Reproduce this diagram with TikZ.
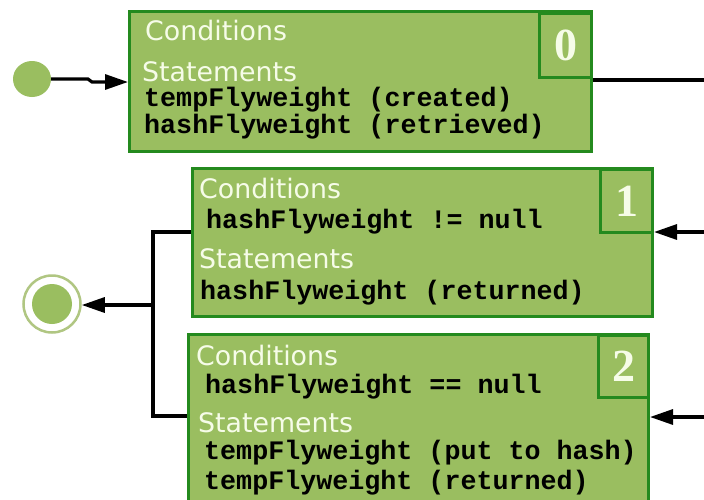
\documentclass[tikz,border=0pt]{standalone}
\usepackage{fontspec}
\setmainfont{DejaVu Sans}
\newfontfamily\codefont{Liberation Mono}
\newfontfamily\numfont{Liberation Serif}
\usetikzlibrary{arrows.meta,shapes.geometric}
\definecolor{boxfill}{RGB}{154,190,96}
\definecolor{boxline}{RGB}{36,138,30}
\definecolor{ringc}{RGB}{176,198,130}
\definecolor{headtext}{RGB}{246,252,232}
\tikzset{
  x=1pt, y=-1pt,
  statebox/.style={draw=boxline, line width=3pt, fill=boxfill, anchor=north west, inner sep=0pt},
  numbox/.style={draw=boxline, line width=3pt, fill=boxfill, anchor=north west, inner sep=0pt,
     font=\numfont\bfseries\fontsize{46}{46}\selectfont, text=headtext},
  head/.style={anchor=base west, inner sep=0pt, text=headtext, font=\fontsize{26.8}{28}\selectfont},
  code/.style={anchor=base west, inner sep=0pt, text=black, font=\codefont\bfseries\fontsize{26.7}{28}\selectfont},
  conn/.style={line width=3.2pt, black},
  arr/.style={conn, -{Triangle[length=23pt,width=15pt]}}
}
\begin{document}
\begin{tikzpicture}
\clip (0,0) rectangle (704,499);
\fill[white] (0,0) rectangle (704,499);
% box 0
\node[statebox, minimum width=462pt, minimum height=140pt] (b0) at (128,10) {};
\node[numbox, minimum width=52pt, minimum height=64pt] (n0) at (538,12) {0};
\node[head] (c0) at (145,40) {Conditions};
\node[head] (s0) at (142,81) {Statements};
\node[code] (t0a) at (144,106) {tempFlyweight (created)};
\node[code] (t0b) at (144,133) {hashFlyweight (retrieved)};
% box 1
\node[statebox, minimum width=460pt, minimum height=148pt] (b1) at (191,167) {};
\node[numbox, minimum width=52pt, minimum height=63pt] (n1) at (599,168) {1};
\node[head] (c1) at (199,198) {Conditions};
\node[code] (t1a) at (206,228) {hashFlyweight != null};
\node[head] (s1) at (199,268) {Statements};
\node[code] (t1b) at (200,299) {hashFlyweight (returned)};
% box 2
\node[statebox, minimum width=460pt, minimum height=190pt] (b2) at (187,333) {};
\node[numbox, minimum width=50pt, minimum height=62pt] (n2) at (597,334) {2};
\node[head] (c2) at (196,365) {Conditions};
\node[code] (t2a) at (205,393) {hashFlyweight == null};
\node[head] (s2) at (198,432) {Statements};
\node[code] (t2b) at (204,459) {tempFlyweight (put to hash)};
\node[code] (t2c) at (204,489) {tempFlyweight (returned)};
% start and end
\node[ellipse, fill=boxfill, minimum width=38pt, minimum height=36pt, inner sep=0pt] (start) at (32,79) {};
\node[circle, draw=ringc, line width=2.5pt, fill=white, minimum size=57pt, inner sep=0pt] (endo) at (52,304) {};
\node[circle, fill=boxfill, minimum size=40pt, inner sep=0pt] (endi) at (52,304) {};
% coordinates
\coordinate (r0) at (704,80);
\coordinate (r1) at (704,232);
\coordinate (r2) at (704,417);
\coordinate (j1) at (153,232);
\coordinate (j2) at (153,416);
\coordinate (jm) at (153,305);
\coordinate (k1) at (88,79);
\coordinate (k2) at (92,82);
% connectors
\draw[arr] (start.east) -- (k1) -- (k2) -- (b0.west |- k2);
\draw[conn] (b0.east |- r0) -- (r0);
\draw[arr] (r1) -- (b1.east |- r1);
\draw[arr] (r2) -- (b2.east |- r2);
\draw[conn] (b1.west |- j1) -- (j1) -- (j2) -- (b2.west |- j2);
\draw[arr] (jm) -- (endo.east |- jm);
\end{tikzpicture}
\end{document}
